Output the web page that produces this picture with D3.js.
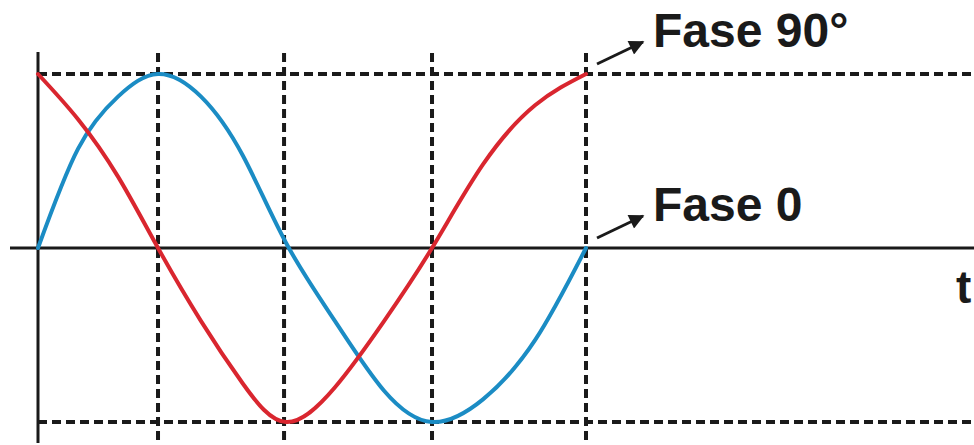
<!DOCTYPE html>
<meta charset="utf-8">
<style>

body {
  margin: 0;
  background: #fff;
}

.axis-line {
  stroke: #1a1a1a;
  stroke-width: 3px;
}

.guide {
  stroke: #1a1a1a;
  stroke-width: 4px;
  stroke-dasharray: 9 5;
}

.wave {
  fill: none;
  stroke-width: 4px;
  stroke-linecap: round;
}

.label {
  font-family: "Liberation Sans", Arial, sans-serif;
  font-weight: bold;
  fill: #1a1a1a;
}

</style>

<body>

<script src="https://cdn.jsdelivr.net/npm/d3@7"></script>
<script>

// time of each sample, quarter-period marks sit at 0.876, 1.8, 2.876, 4
var times = [0, 0.292, 0.584, 0.876, 1.19, 1.496, 1.81, 2.168, 2.526, 2.876, 3.248, 3.628, 4];
var fase0 = [0, 0.57, 0.87, 1, 0.87, 0.53, 0.03, -0.42, -0.82, -1, -0.87, -0.53, 0];
var fase90 = [1, 0.74, 0.41, 0, -0.42, -0.78, -1, -0.8, -0.42, 0, 0.48, 0.82, 1];
var quarterMarks = [0.876, 1.796, 2.876, 4];
var levels = [1, -1];
var labels = [
  {text: "Fase 90°", t: 4, v: 1},
  {text: "Fase 0", t: 4, v: 0}
];

var width = 974,
    height = 445;

var x = d3.scaleLinear().domain([0, 4]).range([38, 586]);
var y = d3.scaleLinear().domain([-1, 1]).range([422, 74]);

var svg = d3.select("body").append("svg")
    .attr("width", width)
    .attr("height", height);

svg.append("defs").append("marker")
    .attr("id", "head")
    .attr("viewBox", "0 0 10 10")
    .attr("refX", 9)
    .attr("refY", 5)
    .attr("markerWidth", 7)
    .attr("markerHeight", 5)
    .attr("markerUnits", "strokeWidth")
    .attr("orient", "auto")
  .append("path")
    .attr("d", "M0,0L10,5L0,10z")
    .style("fill", "#1a1a1a");

// dashed guides
svg.selectAll(".hguide")
  .data(levels)
  .enter().append("line")
    .attr("class", "guide")
    .attr("x1", x(0))
    .attr("x2", width)
    .attr("y1", function(d) { return y(d); })
    .attr("y2", function(d) { return y(d); });

svg.selectAll(".vguide")
  .data(quarterMarks)
  .enter().append("line")
    .attr("class", "guide")
    .attr("x1", function(d) { return x(d); })
    .attr("x2", function(d) { return x(d); })
    .attr("y1", 53)
    .attr("y2", height);

// axes
svg.append("line")
    .attr("class", "axis-line")
    .attr("x1", 10)
    .attr("x2", width)
    .attr("y1", y(0))
    .attr("y2", y(0));

svg.append("line")
    .attr("class", "axis-line")
    .attr("x1", x(0))
    .attr("x2", x(0))
    .attr("y1", 52)
    .attr("y2", 443);

var line = d3.line()
    .x(function(d, i) { return x(times[i]); })
    .y(function(d) { return y(d); })
    .curve(d3.curveNatural);

svg.append("path")
    .attr("class", "wave")
    .style("stroke", "#1b8cc4")
    .attr("d", line(fase0));

svg.append("path")
    .attr("class", "wave")
    .style("stroke", "#d9262f")
    .attr("d", line(fase90));

// labels with arrows
var lab = svg.selectAll(".lab")
  .data(labels)
  .enter().append("g");

lab.append("line")
    .attr("x1", function(d) { return x(d.t) + 11; })
    .attr("y1", function(d) { return y(d.v) - 10; })
    .attr("x2", function(d) { return x(d.t) + 57; })
    .attr("y2", function(d) { return y(d.v) - 32; })
    .style("stroke", "#1a1a1a")
    .style("stroke-width", 3)
    .attr("marker-end", "url(#head)");

lab.append("text")
    .attr("class", "label")
    .attr("x", function(d) { return x(d.t) + 67; })
    .attr("y", function(d) { return y(d.v) - 27; })
    .style("font-size", "48px")
    .text(function(d) { return d.text; });

svg.append("text")
    .attr("class", "label")
    .attr("x", 956)
    .attr("y", 303)
    .style("font-size", "46px")
    .text("t");

</script>
</body>
